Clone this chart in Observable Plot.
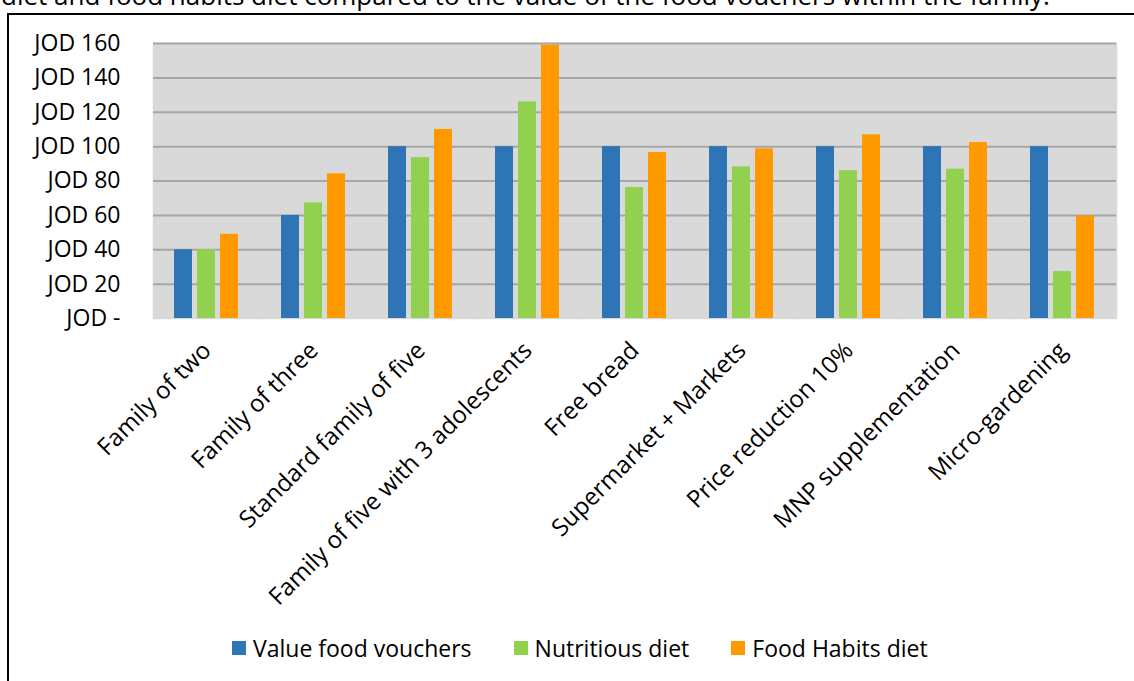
<!DOCTYPE html>
<html>
<head>
<meta charset="utf-8">
<script src="https://cdn.jsdelivr.net/npm/d3@7"></script>
<script src="https://cdn.jsdelivr.net/npm/@observablehq/plot@0.6"></script>
<style>
  html, body { margin: 0; padding: 0; background: #fff; overflow: hidden; width: 1134px; height: 681px; }
  body { position: relative; font-family: "Open Sans", sans-serif; }
  #caption { position: absolute; left: 1px; top: -22px; font-size: 26px; line-height: 1.362; white-space: nowrap; color: #000; }
  #frame { position: absolute; left: 7px; top: 13px; width: 1200px; height: 800px; border: 2px solid #000; box-sizing: border-box; pointer-events: none; }
  #chart { position: absolute; left: 0; top: 0; }
  #legend { position: absolute; left: 232px; top: 632px; display: flex; align-items: center; font-size: 23px; color: #000; }
  .item { display: flex; align-items: center; margin-right: 42px; }
  .sw { width: 14px; height: 14px; margin-right: 7px; display: inline-block; }
</style>
</head>
<body>
<div id="caption">diet and food habits diet compared to the value of the food vouchers within the family.</div>
<div id="frame"></div>
<div id="chart"></div>
<div id="legend"></div>
<script>
const categories = ["Family of two", "Family of three", "Standard family of five", "Family of five with 3 adolescents", "Free bread", "Supermarket + Markets", "Price reduction 10%", "MNP supplementation", "Micro-gardening"];
const series = ["Value food vouchers", "Nutritious diet", "Food Habits diet"];
const colors = ["#2e75b6", "#92d050", "#ff9900"];
const voucherValues = [40, 60, 100, 100, 100, 100, 100, 100, 100];
const nutritiousValues = [40, 67.3, 93.6, 126, 76.2, 88.2, 86, 86.9, 27.3];
const habitsValues = [49, 84.2, 110, 159, 96.6, 98.7, 106.9, 102.4, 59.7];
const yTicks = [0, 20, 40, 60, 80, 100, 120, 140, 160];

const seriesValues = [voucherValues, nutritiousValues, habitsValues];
const data = [];
categories.forEach((c, i) => {
  series.forEach((s, j) => data.push({category: c, series: s, value: seriesValues[j][i]}));
});

const chart = Plot.plot({
  width: 1134,
  height: 620,
  marginLeft: 150,
  marginRight: 16,
  marginTop: 43,
  marginBottom: 302,
  style: {fontFamily: "Open Sans", fontSize: "23px", color: "#000", background: "transparent"},
  fx: {domain: categories, padding: 0, label: null},
  x: {domain: series, paddingInner: 0.208, paddingOuter: 0.846, axis: null},
  y: {domain: [0, 160], label: null},
  color: {domain: series, range: colors},
  marks: [
    Plot.frame({fill: "#d9d9d9", stroke: "#d9d9d9", strokeWidth: 1.5}),
    Plot.ruleY(yTicks.filter(d => d > 0), {stroke: "#a6a6a6", strokeWidth: 2}),
    Plot.barY(data, {fx: "category", x: "series", y: "value", fill: "series"}),
    Plot.axisY({ticks: yTicks, tickSize: 0, tickPadding: 33, label: null,
      tickFormat: d => d === 0 ? "JOD -" : `JOD ${d}`}),
    Plot.axisFx({anchor: "bottom", tickRotate: -45, tickSize: 0, tickPadding: 28, fontSize: 24, label: null})
  ]
});
document.getElementById("chart").appendChild(chart);

const legend = document.getElementById("legend");
series.forEach((s, i) => {
  const item = document.createElement("div");
  item.className = "item";
  const sw = document.createElement("span");
  sw.className = "sw";
  sw.style.background = colors[i];
  item.appendChild(sw);
  item.appendChild(document.createTextNode(s));
  legend.appendChild(item);
});
</script>
</body>
</html>
